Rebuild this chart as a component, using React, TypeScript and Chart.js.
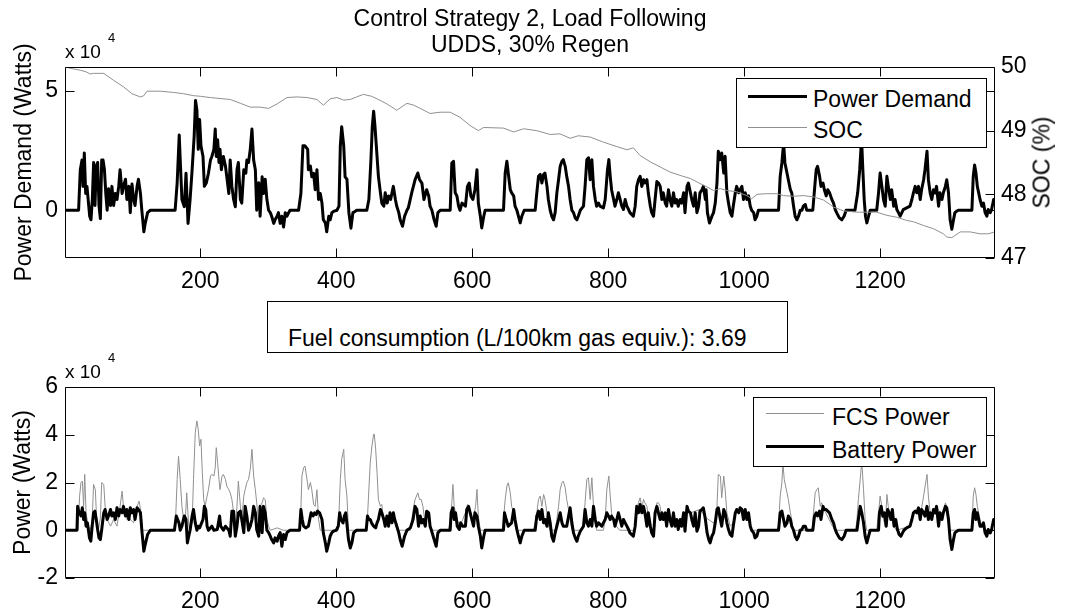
import React, { useEffect, useRef } from 'react';
import { Chart, registerables } from 'chart.js';

Chart.register(...registerables);

const FONT = '"Liberation Sans", Arial, Helvetica, sans-serif';
const FS = 23;
const GRAY = '#909090';

// ---- tick values ----
const xTicks = [200, 400, 600, 800, 1000, 1200];
const demandTicks = [0, 5];
const socTicks = [47, 48, 49, 50];
const powerTicks = [-2, 0, 2, 4, 6];

// ---- series: [time (s), value] ; power values in units of 10^4 W ----
const powerDemand: [number, number][] = [
  [1, 0], [21, 0], [23.5, 1.7], [26, 2.1], [27.5, 1.0], [29.4, 2.4], [31.4, 0.7], [33.3, 1.0], [37.3, -0.25], [39.2, -0.4],
  [41.2, 0.45], [43.1, 2.0], [45.1, 0.2], [47, 1.85], [49, 2.0], [51, 0.2], [53, -0.35], [55, 2.1], [57, 2.1], [59, 1.7],
  [61, 0.7], [63, 0], [65, 0.9], [68, 0.2], [70, 1.0], [72.5, 0.2], [75, 0.7], [77.5, 0.45], [80, 1.0], [82, 1.7],
  [85, 0.7], [87, 1.0], [90, 1.3], [92, 0.45], [95, 1.0], [97, -0.1], [99.5, 1.1], [102, 0.45], [104, 0.2], [107, 1.0],
  [109, 1.3], [112, 0.7], [114, 0], [117, -0.9], [119, -0.55], [122.5, -0.1], [126.5, 0], [163, 0], [166, 1.15], [169, 3.15],
  [170.5, 2.1], [173, 0.45], [176.5, 0.15], [179, 1.55], [182, -0.55], [185, 0.45], [188, 1.7], [191, 3.1], [193, 4.6], [195, 4.2],
  [197, 2.55], [199, 3.8], [201, 2.7], [204, 2.25], [206, 1.0], [209, 1.15], [212, 1.55], [215, 2.1], [217, 2.25], [220, 2.55],
  [222, 3.4], [223.5, 2.25], [225.5, 2.95], [227.5, 2.0], [229, 2.55], [231, 1.7], [234, 2.25], [237, 1.85], [239, 1.4], [242, 0.7],
  [244, 2.1], [246.5, 1.0], [249, 0.45], [251.5, 0.15], [254, 1.7], [256, 2.0], [259, 0.45], [261, 0.3], [264, 1.7], [267, 1.55],
  [268.5, 2.1], [271, 2.0], [273.5, 2.55], [276, 3.4], [278.5, 2.1], [281, 1.7], [283, 0], [286, 1.15], [288, -0.25], [291, 1.4],
  [293, 0.7], [295.5, 1.3], [298, 0.45], [300.5, 0], [303, -0.1], [305, -0.25], [308, -0.55], [310, -0.4], [313, -0.25], [315, -0.1],
  [317.5, -0.55], [320, -0.25], [322.5, -0.7], [325, -0.1], [327.5, -0.25], [330, -0.1], [332, 0], [344.6, 0], [348, 0.7], [351, 2.7],
  [354, 2.7], [358, 2.55], [359, 1.7], [362, 1.85], [364, 1.4], [366.7, 1.55], [369, 0.86], [371.6, 1.7], [374, 0.45], [376.5, 0.7],
  [379, 0.3], [381, -0.4], [384, -0.53], [386, -0.9], [389, -0.25], [391, -0.4], [393.6, -0.1], [396, -0.05], [401, 0], [404, 0.17],
  [406, 2.7], [408, 3.5], [411, 2.7], [413, 1.4], [415.7, 1.3], [418.6, -0.1], [421.6, -0.75], [424.5, -0.1], [427.5, -0.05], [430, 0],
  [445, 0], [448, 0.45], [451, 2.1], [453, 3.5], [455, 4.15], [457, 3.5], [460, 2.26], [462, 1.42], [465, 0.73], [467, 0.3],
  [470, 0.17], [472, 0.73], [475, 0.3], [477, 0.6], [480, 0.45], [482, 0.73], [484, 1.0], [487, 0.45], [489, 0.17], [492, -0.1],
  [494, -0.4], [497.5, -0.67], [500.5, -0.25], [504, 0], [506, 0.1], [511, 0.73], [516, 1.28], [520, 1.56], [522.5, 1.28], [526, 1.14],
  [529, 0.45], [533, 0.86], [536, 0.6], [538, 0.17], [540.7, 0], [544, -0.4], [547, -0.67], [549.5, -0.1], [553, 0], [567.6, 0],
  [570, 1.98], [572.5, 2.05], [575, 0.73], [577.5, 0.6], [580, 0.17], [582, 0], [585, 0.3], [590, 0.17], [593, 1.0], [595.6, 1.14],
  [598, 0.6], [601, 0.45], [604, 0.86], [607, 1.7], [609, 0.3], [612, -0.25], [614, -0.74], [617, -0.25], [619, 0], [646, 0],
  [648.5, 1.56], [651, 2.05], [653, 1.56], [656, 0.86], [658, 0.73], [661, 0.6], [663, 0.17], [665.7, 0], [668, -0.25], [670.6, -0.53],
  [673, -0.25], [676.5, 0], [692.6, 0], [695, 0.73], [697.5, 1.42], [700, 1.5], [702.5, 1.14], [705, 1.5], [707, 1.56], [710, 1.0],
  [712, 0.45], [714.7, 0], [717, -0.25], [719.6, -0.4], [722, -0.1], [724.5, 0.73], [727, 1.28], [729.4, 1.84], [732, 2.05], [734, 2.12],
  [736.8, 1.84], [739, 1.42], [741.7, 1.0], [744, 0.45], [746.6, 0], [749, -0.1], [751.5, -0.32], [754, -0.4], [756, -0.25], [759, 0],
  [763.7, 0.17], [766, 1.0], [768.6, 2.12], [771, 2.2], [773.5, 1.28], [776, 2.12], [778.4, 1.0], [781, 0.45], [783, 0.17], [785.8, 0.3],
  [788, 0.17], [793, 0.1], [795.6, 0.45], [799, 1.7], [801, 2.12], [803, 1.42], [805, 0.86], [808, 0.45], [810, 0.17], [812.7, 0.45],
  [815, 0.73], [817.6, 0.45], [820, 0.17], [822.5, 0.03], [825, 0.45], [827.5, 0.17], [830, 0.03], [832, -0.1], [837, -0.25], [839.7, 0.17],
  [842, 1.0], [844.6, 1.28], [847, 1.42], [849.5, 1.0], [852, 1.28], [854, 1.14], [857, 1.28], [859, 0.73], [862, 0.17], [864, -0.1],
  [866.7, -0.25], [869, 0.45], [871.6, 1.2], [874, 1.14], [876.5, 1.0], [879, 0.45], [881, 0.73], [884, 0.3], [886, 0.17], [888.7, 0.86],
  [891, 0.45], [893.6, 0.17], [896, 0.73], [898.5, 0.3], [901, 0.45], [903, 0.17], [906, 0.45], [908, 0.3], [911, 0.73], [913, -0.1],
  [916, 1.0], [918, 1.14], [921, 0.73], [923, 0.45], [925.6, 0.17], [928, 0.73], [930.5, -0.1], [933, 0.17], [935, 0.73], [938, 0.86],
  [940, 1.0], [943, 0.45], [944, 0.86], [946, -0.1], [949, -0.53], [952.6, -0.25], [955, -0.1], [957.5, 0.3], [960, 1.14], [962, 2.47],
  [965, 2.12], [967, 2.4], [970, 1.56], [972, 2.26], [974.6, 0.73], [977, 0.3], [979.5, -0.1], [982, -0.25], [984, 0.17], [987, 0.73],
  [989, 1.0], [992, 0.73], [994, 0.86], [996.7, 1.0], [999, 0.45], [1001.6, 0.73], [1004, 0.45], [1006.5, 0.6], [1009, 0.17], [1011, 0],
  [1014, -0.1], [1016, -0.4], [1018.7, -0.25], [1021, 0], [1050.6, 0], [1053, 1.42], [1055.5, 1.98], [1058, 2.8], [1060, 1.98], [1063, 1.56],
  [1065, 1.28], [1068, 0.86], [1070, 0.73], [1072.7, 0.17], [1075, -0.25], [1077.6, -0.4], [1080, -0.25], [1082.5, 0], [1085, 0], [1087, 0.17],
  [1090, 0.24], [1092, 0], [1101, 0], [1103.5, 0.86], [1106, 1.7], [1108, 1.84], [1111, 1.42], [1113, 1.0], [1116, 1.14], [1118, 0.86],
  [1120.7, 0.6], [1123, 0.86], [1125.6, 0.73], [1129, 0.45], [1131.5, 0.3], [1134, 0.03], [1136, -0.1], [1140, -0.32], [1143.7, -0.4], [1147, -0.25],
  [1150, 0], [1163, 0], [1167, 0.73], [1170, 1.7], [1172.7, 3.0], [1174.6, 1.7], [1176.6, 0.45], [1178.5, -0.25], [1180.5, -0.53], [1183, -0.25],
  [1185.4, 0], [1195, 0], [1197.7, 0.73], [1200, 1.56], [1202.6, 1.0], [1205, 0.45], [1207.5, 0.17], [1210, 1.42], [1212, 1.0], [1215, 0.45],
  [1217, 0.86], [1220, 0.17], [1222, 0.45], [1224.6, 0.03], [1227, -0.1], [1229.5, -0.25], [1232, -0.1], [1234, 0.03], [1239, 0.1], [1244, 0.17],
  [1246.7, 0.45], [1249, 0.73], [1251.6, 1.0], [1254, 0.73], [1256.5, 1.0], [1259, 0.45], [1261, 0.86], [1264, 1.28], [1266, 1.7], [1269, 2.47],
  [1271, 1.28], [1273.6, 0.73], [1276, 0.45], [1278.5, 0.86], [1281, 0.73], [1283, 1.0], [1286, 0.17], [1288, 0.73], [1291, 0.45], [1293, 0.73],
  [1296, 1.0], [1298, 1.28], [1300.6, 0.73], [1303, -0.4], [1305.5, -0.8], [1308, -0.4], [1310, -0.1], [1313, -0.03], [1315, 0], [1335, 0],
  [1337, 1.42], [1339, 1.9], [1341, 1.56], [1343, 1.0], [1345, 0.73], [1347, 0.45], [1349.6, 0.17], [1352, 0.3], [1354.5, -0.1], [1357, -0.25],
  [1359, 0.03], [1362, -0.1], [1364, 0.03], [1367, 0.45], [1369, 0.2],
];

// SOC in %
const soc: [number, number][] = [
  [1, 50.0], [13.7, 49.97], [23.5, 49.95], [33, 49.92], [38, 49.89], [43, 49.9], [58, 49.9], [72.5, 49.79], [87, 49.69], [99.5, 49.58],
  [112, 49.53], [117, 49.55], [121.6, 49.62], [141, 49.62], [161, 49.6], [175.5, 49.58], [190, 49.55], [200, 49.54], [214.7, 49.52], [244, 49.49],
  [259, 49.43], [273.5, 49.37], [288, 49.37], [300.5, 49.35], [313, 49.42], [327.5, 49.52], [342, 49.53], [357, 49.52], [371.6, 49.49], [381, 49.4],
  [391, 49.5], [401, 49.52], [411, 49.48], [420.6, 49.49], [430, 49.53], [440, 49.57], [452, 49.54], [460, 49.5], [474.5, 49.42], [489, 49.32],
  [504, 49.43], [514, 49.4], [523.5, 49.35], [538, 49.27], [553, 49.29], [567.6, 49.29], [582, 49.21], [597, 49.08], [609, 49.0], [616.7, 49.05],
  [646, 49.04], [661, 48.98], [675.5, 49.03], [695, 49.0], [714.7, 48.94], [729, 48.95], [744, 48.88], [756, 48.92], [773.5, 48.9], [793, 48.82],
  [812.7, 48.75], [827.5, 48.7], [837, 48.73], [847, 48.61], [862, 48.51], [876.5, 48.43], [891, 48.35], [908, 48.29], [920.7, 48.25], [935, 48.17],
  [950, 48.09], [955, 48.06], [965, 48.09], [974.6, 48.06], [989, 48.04], [1004, 47.98], [1011, 47.93], [1019, 48.0], [1033, 48.01], [1048, 48.01],
  [1058, 47.98], [1072.7, 47.97], [1087, 47.98], [1102, 47.96], [1117, 47.91], [1131.5, 47.8], [1146, 47.74], [1166, 47.72], [1195, 47.72], [1210, 47.67],
  [1224.6, 47.64], [1239, 47.59], [1249, 47.57], [1264, 47.51], [1278.5, 47.46], [1293, 47.38], [1298, 47.33], [1305.5, 47.32], [1318, 47.41], [1332.5, 47.41],
  [1347, 47.38], [1359, 47.38], [1369, 47.41],
];

const fcsPower: [number, number][] = [
  [1, 0], [20, 0], [22.5, 1.43], [24.5, 2.0], [26.5, 2.06], [28.4, 1.0], [30, 2.34], [32, 0.73], [35, 0.2], [38, 0],
  [41, 0.4], [43, 1.92], [45.6, 1.7], [48, 0.17], [50, 0], [53, 0.5], [55, 2.0], [58, 1.92], [60, 1.0], [63, 0.45],
  [68, 0.17], [72.5, 0.45], [77.5, 0.17], [82, 1.0], [85, 1.64], [87, 1.0], [92, 0.45], [97, 0.45], [102, 0.31], [107, 1.0],
  [110, 1.22], [113, 0.73], [115, 0], [163, 0], [166, 2.13], [168, 3.1], [170.5, 2.13], [173, 1.0], [175.5, 0.45], [178, 0.45],
  [180, 1.57], [183, 0.17], [185, 0], [188, 0.31], [190, 2.13], [192.6, 4.09], [195, 4.58], [197, 4.23], [199, 3.53], [201, 3.81],
  [203, 2.41], [205, 1.29], [207, 1.0], [210, 1.43], [212, 1.7], [215, 2.27], [217, 2.34], [220, 2.27], [222, 2.62], [223.5, 3.46],
  [225.5, 2.83], [227.5, 2.13], [229, 1.7], [232, 2.27], [234, 2.34], [237, 2.13], [239, 1.85], [242, 1.7], [244, 1.57], [246.5, 1.29],
  [249, 0.73], [251.5, 0.17], [254, 1.0], [256, 2.06], [259, 1.0], [261, 0.45], [264, 1.43], [266, 1.7], [268.5, 2.0], [271, 2.13],
  [273.5, 2.55], [276, 3.39], [278.5, 2.27], [281, 1.7], [283, 1.15], [286, 0.17], [288, 1.0], [291, 1.15], [293, 1.36], [295.5, 1.29],
  [298, 0.45], [300.5, 0.17], [303, 0], [313, 0.1], [317.5, 0.05], [322, 0], [347, 0], [349.5, 2.27], [352, 2.62], [354, 2.69],
  [357, 2.13], [359, 1.7], [362, 2.0], [364, 1.7], [366.7, 1.08], [369, 1.0], [371.6, 1.7], [374, 0.45], [376.5, 0], [403, 0],
  [406, 2.13], [408, 2.97], [411, 3.39], [413, 2.13], [415.7, 1.43], [418, 0], [445, 0], [447.5, 1.43], [450, 2.83], [452.5, 3.53],
  [455, 4.02], [456, 4.02], [458, 3.39], [460, 2.41], [462, 1.29], [465, 1.0], [467, 1.08], [470, 0.31], [472, 0.17], [474.5, 0.45],
  [477, 0.31], [479, 0.66], [482, 0.73], [484, 0.59], [489, 0.31], [492, 0], [509, 0], [511, 0.45], [514, 1.0], [516, 1.29],
  [520, 1.57], [522.5, 1.29], [525, 1.29], [527.5, 1.0], [530, 0.45], [532, 0.73], [535, 0.73], [537, 0.31], [540, 0], [565, 0],
  [567.6, 0.45], [570, 1.15], [571.6, 1.92], [573.5, 1.0], [575.5, 0.73], [578, 0.45], [582, 0.17], [586, 0.45], [590, 0.73], [593, 1.08],
  [595.6, 1.0], [598, 0.73], [601, 0.45], [603, 0.73], [605, 1.0], [607, 1.71], [609, 0.59], [612, 0], [644, 0], [646, 0.45],
  [648.5, 1.29], [651, 1.85], [653, 1.99], [656, 1.57], [658, 1.0], [661, 0.73], [663, 0.17], [665, 0], [690, 0], [692.6, 0.31],
  [695, 0.73], [697.5, 1.29], [700, 1.43], [702.5, 1.0], [705, 1.5], [707, 1.29], [710, 0.73], [712, 0.17], [714.7, 0], [722, 0],
  [724.5, 0.45], [727, 1.0], [729.4, 1.71], [732, 1.99], [734, 2.06], [736.8, 1.78], [739, 1.29], [741.7, 0.87], [744, 0.45], [746.6, 0],
  [761, 0], [763.7, 0.31], [766, 1.15], [768.6, 2.13], [771, 2.2], [773.5, 1.29], [776, 2.2], [778.4, 1.0], [781, 0.45], [783, 0],
  [793, 0], [795.6, 0.45], [798, 1.71], [801, 2.27], [803, 1.43], [805, 0.73], [808, 0.31], [812, 0.17], [817, 0], [839, 0],
  [842, 0.87], [844.6, 1.15], [847, 1.36], [849.5, 0.94], [852, 1.29], [854, 1.15], [857, 1.0], [859, 0.59], [862, 0.17], [864, 0],
  [866, 0], [869, 0.45], [871.6, 1.15], [874, 1.15], [876.5, 1.0], [879, 0.45], [881, 0.73], [884, 0.31], [886, 0.17], [888.7, 0.73],
  [891, 0.45], [893.6, 0.17], [896, 0.45], [901, 0.31], [906, 0.45], [911, 0.38], [916, 1.0], [921, 0.73], [935, 0.87], [945, 0.5],
  [955, 0.3], [958, 0.5], [960, 1.0], [962, 2.34], [965, 2.27], [967, 1.36], [970, 2.27], [972, 1.71], [974.6, 0.73], [979.5, 0.17],
  [984, 0.3], [989, 0.87], [994, 0.87], [999, 0.73], [1004, 0.59], [1009, 0.17], [1011, 0], [1048, 0], [1050.6, 0.17], [1053, 1.43],
  [1055.5, 1.99], [1057, 2.8], [1059, 2.13], [1061, 1.85], [1063, 1.57], [1065, 1.29], [1068, 0.73], [1070, 0.45], [1072, 0], [1100, 0],
  [1102, 0.73], [1104.5, 1.57], [1107, 1.71], [1109, 1.78], [1112, 1.0], [1114, 1.15], [1117, 0.87], [1120, 0.73], [1125, 0.45], [1130, 0.17],
  [1134, 0], [1164, 0], [1166, 0.45], [1168, 1.29], [1170.7, 2.13], [1173, 2.9], [1175.6, 1.71], [1178, 0.45], [1180, 0], [1195, 0],
  [1197.7, 0.73], [1200, 1.43], [1202.6, 1.0], [1205, 0.45], [1207.5, 0.17], [1210, 1.5], [1212, 1.0], [1215, 0.45], [1217, 0.87], [1220, 0.17],
  [1224, 0], [1244, 0.17], [1246.7, 0.45], [1249, 0.73], [1254, 0.73], [1259, 0.59], [1264, 1.43], [1267, 1.99], [1269, 2.34], [1271, 1.43],
  [1273.6, 0.73], [1278.5, 0.73], [1283, 1.0], [1288, 0.73], [1293, 0.73], [1296, 1.15], [1298, 1.0], [1300.6, 0.45], [1303, 0], [1335, 0],
  [1337, 1.43], [1339, 1.78], [1341, 1.5], [1343, 1.0], [1345, 0.73], [1347, 0.45], [1349.6, 0.17], [1352, 0.17], [1355, 0], [1369, 0],
];

const batteryPower: [number, number][] = [
  [1, 0], [18.6, 0], [19.6, 1.0], [21, 0.8], [22.5, 0.73], [24.5, 0.6], [26.5, 0.94], [28.4, 0.45], [30, 0.73], [32, 0.17],
  [34, 0.31], [37, -0.32], [39, -0.46], [41, 0.17], [43, 0.73], [45, 0.8], [47, 0.45], [49, 0.03], [51, -0.32], [53, -0.39],
  [55, 0.03], [58, 0.73], [60, 0.87], [63, 0.45], [65, 0.6], [68, 0.87], [70, 0.6], [72.5, 0.73], [75, 0.45], [77.5, 0.94],
  [80, 0.6], [82, 0.87], [85, 0.73], [87, 1.0], [90, 0.6], [92, 0.87], [95, 0.45], [97, 0.94], [99.5, 0.73], [102, 0.87],
  [104, 0.45], [107, 0.94], [109, 0.87], [112, 0.73], [114, 0], [117, -0.88], [119, -0.6], [122.5, -0.18], [126.5, 0], [162, 0],
  [164.7, 0.6], [166.7, 0.45], [168.6, 0.31], [170.5, 0], [173, 0.17], [176.5, 0.6], [179, 0.45], [181, -0.53], [183, -0.25], [185, 0],
  [188, 0.6], [190, 0.87], [192.6, 0.31], [195, 0], [197, 0.17], [199, 0.1], [204, 0.45], [206, 1.0], [208, 0.87], [210, 0.17],
  [212, 0], [217, 0.17], [220, 0], [225, 0.03], [228.4, 0.6], [230, 0.17], [234, 0], [237, 0.17], [242, 0], [244, -0.25],
  [246.5, 0.8], [249, 0.8], [251.5, -0.25], [254, 0.17], [256, 0.73], [259, 0.8], [261, 0.45], [264, -0.1], [266, 1.0], [268.5, 0.6],
  [271, 0], [273.5, 0.17], [276, 0.45], [278.5, 1.0], [281, 0.73], [283, 0.03], [286, -0.25], [288, 1.0], [291, -0.1], [293, 1.0],
  [295.5, 0.73], [298, 0], [300.5, -0.1], [303, -0.25], [305, -0.39], [308, -0.53], [310, -0.32], [313, -0.46], [315, -0.25], [317.5, -0.1],
  [320, -0.67], [322.5, -0.18], [325, -0.39], [327.5, -0.1], [330, -0.04], [332, 0], [346, 0], [348, 0.87], [350, 0.45], [352, 0.17],
  [355, 0.1], [359, 0.17], [363, 0.73], [366, 0.6], [368, 0.73], [370.6, 0.66], [372.5, 0.8], [375.5, 0.73], [379, 0.45], [381, -0.11],
  [384, -0.53], [386, -0.88], [389, -0.53], [391, -0.25], [393.6, -0.1], [396, -0.04], [400, 0], [403, 0.17], [405, 0.73], [407, 0.45],
  [410, 0.31], [412, 0.6], [414, 0.73], [416, 0.17], [418, -0.39], [420.6, -0.74], [423, -0.53], [425.5, -0.11], [428, -0.04], [430, 0],
  [444, 0], [446, 0.6], [448, 0.45], [450, 0.45], [452, 0.3], [455, 0.17], [458, 0.1], [460, 0.31], [462, 0.45], [465, 0.87],
  [467, 0.73], [470, 0.45], [472, 0.17], [474.5, 0.6], [477, 0.17], [479, 0.73], [482, 0.31], [484, 0.73], [486, 0.45], [489, 0.17],
  [492, -0.11], [494, -0.39], [497, -0.67], [500.5, -0.25], [504, 0], [509, 0.1], [513, 0.45], [516, 1.0], [518.6, 0.87], [521, 0.17],
  [523.5, 0.6], [526, 0.31], [528, 0.45], [531, 0.17], [533, 0.8], [536, 0.73], [538, 0.17], [540, 0], [544, -0.39], [547, -0.67],
  [549.5, -0.11], [553, 0], [567.6, 0], [569, 0.73], [571.6, 0.94], [573.5, 0.45], [575.5, 0.73], [578, 0.17], [581, 0.03], [583, 0.31],
  [586, 0.17], [590, 0.17], [592, 0.87], [594.6, 1.0], [597, 0.73], [599.5, 0.45], [602, 0.17], [604, 0.73], [607, 0.59], [609, 0.17],
  [612, -0.25], [614, -0.74], [617, -0.25], [619, 0], [646, 0], [647.5, 0.73], [650, 0.45], [653, 0.17], [658, 0.31], [661, 0.87],
  [663, 0.45], [665.7, 0.03], [668, -0.25], [670.6, -0.53], [673, -0.25], [676.5, 0], [692.6, 0], [695, 0.6], [697.5, 0.8], [700, 0.45],
  [702.5, 0.87], [705, 0.31], [707, 0.45], [710, 0.17], [712, 0.73], [714.7, 0.31], [717, -0.25], [719.6, -0.46], [722, -0.11], [724.5, 0.17],
  [727, 0.45], [729.4, 0.73], [732, 0.31], [734, 0.17], [739, 0.17], [741.7, 0.59], [744, 0.94], [746.6, 0.31], [749, -0.11], [751.5, -0.32],
  [754, -0.46], [756, -0.25], [759, -0.04], [763.7, 0.17], [766, 0.87], [768.6, 0.31], [771, 0.17], [773.5, 0.45], [776, 0.17], [778.4, 1.0],
  [781, 0.45], [783, 0.17], [785.8, 0.31], [790.7, 0.17], [793, 0.31], [795.6, 0.45], [798, 0.73], [800.5, 0.59], [803, 0.45], [805, 0.59],
  [808, 0.45], [810, 0.17], [812.7, 0.45], [815, 0.73], [817.6, 0.45], [820, 0.17], [822.5, 0.45], [825, 0.31], [827.5, 0.17], [830, 0.03],
  [832, -0.11], [837, -0.25], [839.7, 0.17], [842, 1.0], [844.6, 0.73], [847, 1.08], [849.5, 0.73], [852, 1.0], [854, 0.73], [857, 0.17],
  [859, 0.73], [862, 0.17], [864, -0.11], [866.7, -0.25], [869, 0.73], [871.6, 1.0], [874, 0.73], [876.5, 0.45], [879, 0.73], [881, 0.45],
  [884, 0.73], [886, 0.17], [888.7, 0.87], [891, 0.45], [893.6, 0.17], [896, 0.73], [898.5, 0.17], [901, 0.45], [903, 0.03], [906, 0.45],
  [908, 0.17], [911, 0.73], [913, -0.04], [916, 1.0], [918, 0.8], [921, 0.73], [923, 0.45], [925.6, 0.17], [928, 0.73], [930.5, -0.04],
  [933, 0.17], [935, 0.8], [938, 0.87], [940, 0.94], [943, 0.45], [945.5, -0.11], [948, -0.39], [950, -0.53], [952.6, -0.25], [955, -0.11],
  [957.5, 0.31], [960, 0.87], [962, 0.94], [965, 0.45], [967, 0.17], [970, 0.87], [972, 0.73], [974.6, 0.31], [977, 0.03], [979.5, -0.18],
  [982, -0.25], [984, 0.17], [987, 0.73], [989, 0.87], [992, 0.73], [994, 0.94], [996.7, 0.87], [999, 0.45], [1001.6, 0.87], [1004, 0.45],
  [1006.5, 0.73], [1009, 0.17], [1011, 0], [1014, -0.11], [1016, -0.32], [1018.7, -0.25], [1021, 0], [1050.6, 0], [1053, 0.73], [1055.5, 0.8],
  [1058, 0.45], [1060, 0.17], [1063, 0.31], [1065, 0.6], [1068, 0.45], [1070, 0.17], [1072.7, 0], [1075, -0.25], [1077.6, -0.39], [1080, -0.25],
  [1082.5, 0], [1085, 0.03], [1087, 0.17], [1090, 0.17], [1092, 0], [1101, 0], [1103.5, 0.6], [1106, 0.73], [1108, 0.6], [1111, 0.8],
  [1113, 0.45], [1116, 1.0], [1118, 0.87], [1120.7, 0.87], [1123, 0.8], [1125.6, 0.73], [1129, 0.45], [1131.5, 0.31], [1134, 0.03], [1136, -0.11],
  [1140, -0.32], [1143.7, -0.39], [1147, -0.25], [1150, 0], [1166, 0], [1168, 0.45], [1170.7, 1.0], [1173, 0.73], [1175.6, 0.31], [1178, -0.25],
  [1180.5, -0.53], [1183, -0.25], [1185.4, 0], [1197.7, 0], [1199, 0.73], [1201.6, 1.0], [1204, 0.59], [1206.5, 0.73], [1209, 0.17], [1211, 0.87],
  [1213.5, 0.73], [1216, 0.45], [1218, 0.87], [1220.5, 0.17], [1223, 0.45], [1225.5, 0.03], [1228, -0.18], [1230.5, -0.25], [1233, -0.11], [1235, 0],
  [1239, 0.1], [1244, 0.17], [1246.7, 0.45], [1249, 0.73], [1251.6, 0.8], [1254, 0.73], [1256.5, 0.94], [1259, 0.45], [1261, 0.87], [1264, 0.73],
  [1266, 0.59], [1269, 1.0], [1271, 0.45], [1273.6, 0.73], [1276, 0.45], [1278.5, 0.87], [1281, 0.73], [1283, 1.0], [1286, 0.17], [1288, 0.73],
  [1291, 0.45], [1293, 0.73], [1296, 1.0], [1298, 0.94], [1300.6, 0.45], [1303, -0.39], [1305.5, -0.81], [1308, -0.39], [1310, -0.11], [1313, -0.04],
  [1315, 0], [1335, 0], [1337, 0.73], [1339, 0.87], [1341, 0.45], [1343, 0.73], [1345, 0.45], [1347, 0.17], [1349.6, 0.17], [1352, 0.31],
  [1354.5, -0.11], [1357, -0.25], [1359, 0.03], [1362, -0.11], [1364, 0.03], [1367, 0.45], [1369, 0.2],
];

const TICK_LEN = 9;

type AxisTicks = { id: string; ticks: number[]; mirror: boolean };

function framePlugin(xIds: string, xs: number[], left: AxisTicks[], right: AxisTicks[]) {
  return {
    id: 'matlabFrame',
    afterDatasetsDraw(chart: any) {
      const { ctx, chartArea: a, scales } = chart;
      const L = Math.round(a.left) + 0.5;
      const R = Math.round(a.right) - 0.5;
      const T = Math.round(a.top) + 0.5;
      const B = Math.round(a.bottom) - 0.5;
      ctx.save();
      ctx.strokeStyle = '#000';
      ctx.lineWidth = 1;
      ctx.beginPath();
      ctx.rect(L, T, R - L, B - T);
      xs.forEach((v) => {
        const p = Math.round(scales[xIds].getPixelForValue(v)) + 0.5;
        ctx.moveTo(p, B);
        ctx.lineTo(p, B - TICK_LEN);
        ctx.moveTo(p, T);
        ctx.lineTo(p, T + TICK_LEN);
      });
      left.forEach((ax) => {
        ax.ticks.forEach((v) => {
          const p = Math.round(scales[ax.id].getPixelForValue(v)) + 0.5;
          ctx.moveTo(L, p);
          ctx.lineTo(L + TICK_LEN, p);
          if (ax.mirror) {
            ctx.moveTo(R, p);
            ctx.lineTo(R - TICK_LEN, p);
          }
        });
      });
      right.forEach((ax) => {
        ax.ticks.forEach((v) => {
          const p = Math.round(scales[ax.id].getPixelForValue(v)) + 0.5;
          ctx.moveTo(R, p);
          ctx.lineTo(R - TICK_LEN, p);
        });
      });
      ctx.stroke();
      ctx.restore();
    },
  };
}

function Txt(props: { x: number; base: number; size?: number; children: any; align?: 'left' | 'center'; width?: number }) {
  const size = props.size ?? FS;
  const w = props.width ?? 600;
  const left = props.align === 'center' ? props.x - w / 2 : props.x;
  return (
    <div
      style={{
        position: 'absolute',
        left,
        top: props.base - 0.8465 * size,
        width: props.align === 'center' ? w : undefined,
        textAlign: props.align === 'center' ? 'center' : 'left',
        fontSize: size,
        lineHeight: `${size}px`,
        whiteSpace: 'nowrap',
      }}
    >
      {props.children}
    </div>
  );
}

function VTxt(props: { cx: number; cy: number; children: any }) {
  const w = 400;
  return (
    <div
      style={{
        position: 'absolute',
        left: props.cx - w / 2,
        top: props.cy - FS / 2,
        width: w,
        height: FS,
        lineHeight: `${FS}px`,
        fontSize: FS,
        textAlign: 'center',
        whiteSpace: 'nowrap',
        transform: 'rotate(-90deg)',
        transformOrigin: '50% 50%',
      }}
    >
      {props.children}
    </div>
  );
}

export default function App() {
  const topRef = useRef<HTMLCanvasElement>(null);
  const botRef = useRef<HTMLCanvasElement>(null);

  useEffect(() => {
    const font = { family: FONT, size: FS };
    const tickBase = {
      color: '#000',
      font,
      autoSkip: false,
      maxRotation: 0,
      minRotation: 0,
      callback: (v: any) => String(v),
    };
    const noGrid = { display: false, drawTicks: false };
    const noBorder = { display: false };
    const pts = (arr: [number, number][]) => arr.map(([x, y]) => ({ x, y }));
    const lineBase = { pointRadius: 0, tension: 0, fill: false, borderJoinStyle: 'round' as const };

    const top = new Chart(topRef.current as HTMLCanvasElement, {
      type: 'line',
      data: {
        datasets: [
          { ...lineBase, label: 'SOC', data: pts(soc), yAxisID: 'ySoc', borderColor: GRAY, borderWidth: 1, order: 0 },
          { ...lineBase, label: 'Power Demand', data: pts(powerDemand), yAxisID: 'y', borderColor: '#000', borderWidth: 3, order: 1 },
        ],
      },
      options: {
        animation: false,
        responsive: false,
        devicePixelRatio: 1,
        events: [],
        layout: { padding: { top: 67, left: 0, right: 0, bottom: 0 } },
        plugins: { legend: { display: false }, tooltip: { enabled: false } },
        scales: {
          x: {
            type: 'linear', min: 1, max: 1369, position: 'bottom',
            grid: noGrid, border: noBorder,
            ticks: { ...tickBase, padding: 10 },
            afterBuildTicks: (s: any) => { s.ticks = xTicks.map((value) => ({ value })); },
            afterFit: (s: any) => { s.height = 42; },
          },
          y: {
            type: 'linear', min: -2, max: 6, position: 'left',
            grid: noGrid, border: noBorder,
            ticks: { ...tickBase, padding: 7 },
            afterBuildTicks: (s: any) => { s.ticks = demandTicks.map((value) => ({ value })); },
            afterFit: (s: any) => { s.width = 65; },
          },
          ySoc: {
            type: 'linear', min: 47, max: 50, position: 'right',
            grid: noGrid, border: noBorder,
            ticks: { ...tickBase, padding: 6 },
            afterBuildTicks: (s: any) => { s.ticks = socTicks.map((value) => ({ value })); },
            afterFit: (s: any) => { s.width = 70; },
          },
        },
      } as any,
      plugins: [
        framePlugin('x', xTicks, [{ id: 'y', ticks: demandTicks, mirror: true }], [{ id: 'ySoc', ticks: socTicks, mirror: false }]),
      ],
    });

    const bot = new Chart(botRef.current as HTMLCanvasElement, {
      type: 'line',
      data: {
        datasets: [
          { ...lineBase, label: 'Battery Power', data: pts(batteryPower), borderColor: '#000', borderWidth: 3, order: 0 },
          { ...lineBase, label: 'FCS Power', data: pts(fcsPower), borderColor: GRAY, borderWidth: 1, order: 1 },
        ],
      },
      options: {
        animation: false,
        responsive: false,
        devicePixelRatio: 1,
        events: [],
        layout: { padding: { top: 27, left: 0, right: 70, bottom: 0 } },
        plugins: { legend: { display: false }, tooltip: { enabled: false } },
        scales: {
          x: {
            type: 'linear', min: 1, max: 1369, position: 'bottom',
            grid: noGrid, border: noBorder,
            ticks: { ...tickBase, padding: 10 },
            afterBuildTicks: (s: any) => { s.ticks = xTicks.map((value) => ({ value })); },
            afterFit: (s: any) => { s.height = 36; },
          },
          y: {
            type: 'linear', min: -2, max: 6, position: 'left',
            grid: noGrid, border: noBorder,
            ticks: { ...tickBase, padding: 7 },
            afterBuildTicks: (s: any) => { s.ticks = powerTicks.map((value) => ({ value })); },
            afterFit: (s: any) => { s.width = 65; },
          },
        },
      } as any,
      plugins: [framePlugin('x', xTicks, [{ id: 'y', ticks: powerTicks, mirror: true }], [])],
    });

    return () => {
      top.destroy();
      bot.destroy();
    };
  }, []);

  return (
    <div
      style={{
        position: 'fixed', left: 0, top: 0, width: 1065, height: 614,
        background: '#fff', overflow: 'hidden', fontFamily: FONT, color: '#000',
      }}
    >
      <canvas ref={topRef} width={1065} height={300} style={{ position: 'absolute', left: 0, top: 0, width: 1065, height: 300 }} />
      <canvas ref={botRef} width={1065} height={254} style={{ position: 'absolute', left: 0, top: 360, width: 1065, height: 254 }} />

      {/* title */}
      <Txt x={530} base={26} align="center">Control Strategy 2, Load Following</Txt>
      <Txt x={530} base={52} align="center">UDDS, 30% Regen</Txt>

      {/* top axis labels */}
      <Txt x={65} base={58} size={19}>x 10</Txt>
      <Txt x={108} base={42} size={13}>4</Txt>
      <VTxt cx={23} cy={162}>Power Demand (Watts)</VTxt>
      <VTxt cx={1042} cy={162}>SOC (%)</VTxt>

      {/* top legend */}
      <div style={{ position: 'absolute', left: 736, top: 78, width: 251, height: 70, boxSizing: 'border-box', border: '1px solid #000', background: '#fff' }} />
      <div style={{ position: 'absolute', left: 748, top: 95, width: 59, height: 3, background: '#000' }} />
      <Txt x={813} base={107}>Power Demand</Txt>
      <div style={{ position: 'absolute', left: 748, top: 127, width: 59, height: 1, background: GRAY }} />
      <Txt x={813} base={138}>SOC</Txt>

      {/* fuel consumption box */}
      <div style={{ position: 'absolute', left: 267, top: 301, width: 521, height: 52, boxSizing: 'border-box', border: '1px solid #000', background: '#fff' }} />
      <Txt x={288} base={346}>Fuel consumption (L/100km gas equiv.): 3.69</Txt>

      {/* bottom axis labels */}
      <Txt x={65} base={378} size={19}>x 10</Txt>
      <Txt x={108} base={362} size={13}>4</Txt>
      <VTxt cx={22} cy={482}>Power (Watts)</VTxt>

      {/* bottom legend */}
      <div style={{ position: 'absolute', left: 753, top: 397, width: 234, height: 70, boxSizing: 'border-box', border: '1px solid #000', background: '#fff' }} />
      <div style={{ position: 'absolute', left: 766, top: 413, width: 58, height: 1, background: GRAY }} />
      <Txt x={832} base={425}>FCS Power</Txt>
      <div style={{ position: 'absolute', left: 766, top: 445, width: 58, height: 3, background: '#000' }} />
      <Txt x={832} base={458}>Battery Power</Txt>
    </div>
  );
}
